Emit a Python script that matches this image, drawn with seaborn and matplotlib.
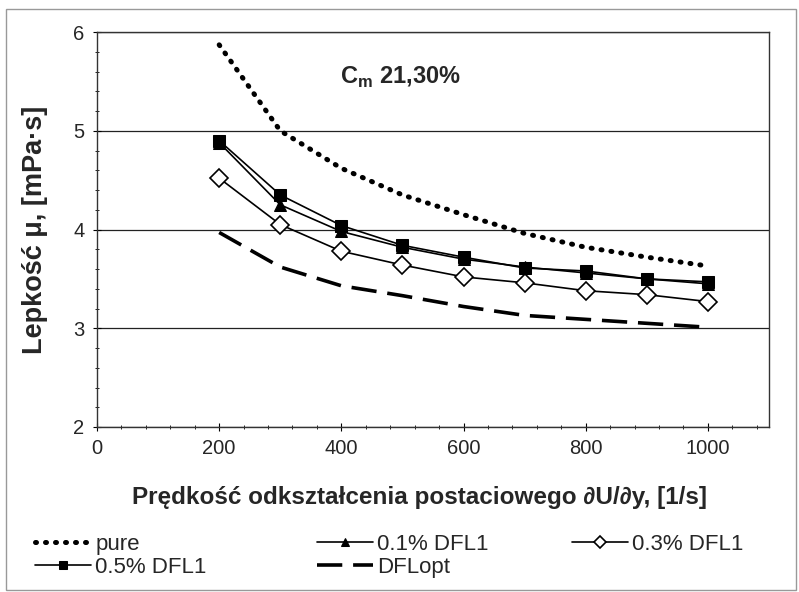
import numpy as np
import matplotlib
matplotlib.use("Agg")
import matplotlib.pyplot as plt
import pandas as pd
import seaborn as sns
from matplotlib.patches import Rectangle
from matplotlib.ticker import MultipleLocator

# shear rate [1/s]
rate = [200, 300, 400, 500, 600, 700, 800, 900, 1000]
# viscosity [mPa.s]
pure = [5.87, 5.00, 4.62, 4.35, 4.15, 3.96, 3.82, 3.72, 3.63]
dfl01 = [4.88, 4.25, 3.98, 3.82, 3.70, 3.62, 3.56, 3.50, 3.45]
dfl03 = [4.52, 4.05, 3.78, 3.64, 3.52, 3.46, 3.38, 3.34, 3.27]
dfl05 = [4.90, 4.35, 4.04, 3.84, 3.72, 3.61, 3.58, 3.50, 3.47]
dflopt = [3.97, 3.62, 3.43, 3.33, 3.22, 3.13, 3.09, 3.05, 3.01]

sns.set_style("white")
plt.rcParams["font.family"] = ["Liberation Sans", "DejaVu Sans"]

fig, ax = plt.subplots(figsize=(7.99, 5.92), dpi=100)
plt.subplots_adjust(left=97 / 799, right=769 / 799, top=1 - 32 / 592, bottom=1 - 427 / 592)

df = pd.DataFrame({"rate": rate, "pure": pure, "0.1% DFL1": dfl01,
                   "0.3% DFL1": dfl03, "0.5% DFL1": dfl05, "DFLopt": dflopt})

sns.lineplot(data=df, x="rate", y="pure", ax=ax, color="black", lw=3.6,
             linestyle=(0, (0.2, 1.8)), dash_capstyle="round", label="pure")
sns.lineplot(data=df, x="rate", y="0.1% DFL1", ax=ax, color="black", lw=1.2,
             marker="^", markersize=9, markerfacecolor="black",
             markeredgecolor="black", label="0.1% DFL1")
sns.lineplot(data=df, x="rate", y="0.3% DFL1", ax=ax, color="black", lw=1.2,
             marker="D", markersize=9, markerfacecolor="white",
             markeredgecolor="black", markeredgewidth=1.2, label="0.3% DFL1")
sns.lineplot(data=df, x="rate", y="0.5% DFL1", ax=ax, color="black", lw=1.2,
             marker="s", markersize=9, markerfacecolor="black",
             markeredgecolor="black", label="0.5% DFL1")
sns.lineplot(data=df, x="rate", y="DFLopt", ax=ax, color="black", lw=2.6,
             linestyle=(0, (7, 3)), label="DFLopt")

ax.set_xlim(0, 1100)
ax.set_ylim(2, 6)
ax.xaxis.set_major_locator(MultipleLocator(200))
ax.xaxis.set_minor_locator(MultipleLocator(40))
ax.yaxis.set_major_locator(MultipleLocator(1))
ax.yaxis.set_minor_locator(MultipleLocator(0.2))
ax.tick_params(which="both", direction="inout", color="black", bottom=True, left=True)
ax.tick_params(which="major", length=6, width=0.8, labelsize=14.5, pad=6)
ax.tick_params(which="minor", length=3, width=0.6)
ax.grid(axis="y", which="major", color="#222222", lw=0.9)
ax.grid(axis="x", visible=False)
for s in ax.spines.values():
    s.set_color("#333333")
    s.set_linewidth(1.0)

ax.set_xlabel("Prędkość odkształcenia postaciowego ∂U/∂y, [1/s]",
              fontsize=17.5, fontweight="bold", labelpad=20)
ax.xaxis.label.set_x(0.48)
ax.set_ylabel("Lepkość μ, [mPa·s]", fontsize=19.5, fontweight="bold", labelpad=18)

ax.text(497, 5.54, r"C$_\mathregular{m}$ 21,30%", fontsize=17, fontweight="bold",
        ha="center", va="center")

handles, labels = ax.get_legend_handles_labels()
ax.get_legend().remove()
hmap = dict(zip(labels, handles))
cols = [(["pure", "0.5% DFL1"], 0.033), (["0.1% DFL1", "DFLopt"], 0.386),
        (["0.3% DFL1"], 0.705)]
for names, xpos in cols:
    fig.legend([hmap[n] for n in names], names, loc="upper left",
               bbox_to_anchor=(xpos, 0.113), frameon=False,
               fontsize=16, handlelength=2.5, handletextpad=0.2,
               labelspacing=0.1, borderaxespad=0, markerscale=0.7)

fig.patches.append(Rectangle((0.008, 0.004), 0.988, 0.98, transform=fig.transFigure,
                             fill=False, edgecolor="#999999", lw=1.0))

plt.savefig("out.png", dpi=100)
